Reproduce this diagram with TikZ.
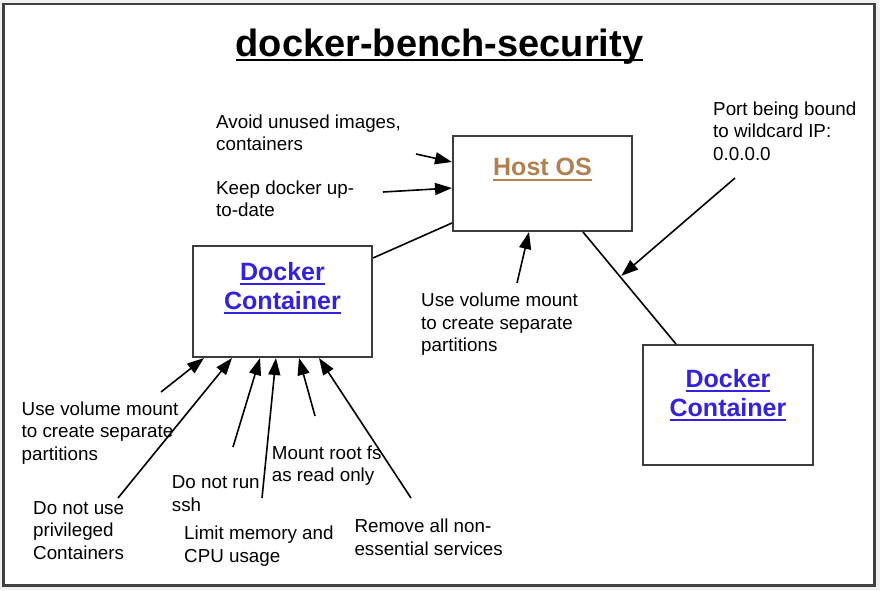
\documentclass[tikz,border=0pt]{standalone}
\usepackage{fontspec}
\setmainfont{Liberation Sans}
\usetikzlibrary{arrows.meta}
\definecolor{hostbrown}{RGB}{178,128,80}
\definecolor{linkblue}{RGB}{51,34,221}
\definecolor{boxgray}{RGB}{60,60,60}
\newsavebox\undlbox
\newcommand{\undl}[1]{\sbox\undlbox{#1}\rlap{\rule[-5pt]{\wd\undlbox}{2.2pt}}\usebox\undlbox}
\tikzset{
  lbl/.style={anchor=base west, align=left, inner sep=0pt, font=\fontsize{18.8}{22.5}\selectfont},
  osbox/.style={draw=boxgray, line width=2pt, inner sep=0pt},
  boxtxt/.style={anchor=base, align=center, inner sep=0pt, font=\bfseries\fontsize{25}{29}\selectfont},
  arr/.style={-{Triangle[length=17pt,width=12pt]}, line width=1.6pt},
  link/.style={line width=1.6pt}
}
\begin{document}
\begin{tikzpicture}[x=1pt,y=-1pt]
  \useasboundingbox (0,0) rectangle (880,590);
  \fill[gray!12] (0,0) rectangle (880,590); % page
  \draw[fill=white, draw=black!75, line width=2.5pt] (3.5,4) rectangle (874.5,585.5); % frame
  \node[anchor=base, inner sep=0pt, font=\bfseries\fontsize{38}{44}\selectfont] (title) at (439.5,56) {\undl{docker-bench-security}}; % title

  \node[osbox, minimum width=179pt, minimum height=95pt] (host) at (542.5,183.5) {}; % host os
  \node[osbox, minimum width=179pt, minimum height=111pt] (dockA) at (282.5,301.5) {}; % left container
  \node[osbox, minimum width=170pt, minimum height=120pt] (dockB) at (728,405) {}; % right container
  % multi-line nodes sit on their last baseline
  \node[boxtxt, text=hostbrown] (hostlbl) at (542.5,175.7) {\undl{Host OS}};
  \node[boxtxt, text=linkblue] (dockAlbl) at (282.5,309) {\undl{Docker}\\\undl{Container}};
  \node[boxtxt, text=linkblue] (dockBlbl) at (728,416) {\undl{Docker}\\\undl{Container}};

  \node[lbl] (avoid) at (216,150.5) {Avoid unused images,\\containers};
  \node[lbl] (keep) at (216,216.5) {Keep docker up-\\to-date};
  \node[lbl] (port) at (713,160) {Port being bound\\to wildcard IP:\\0.0.0.0};
  \node[lbl] (midvol) at (421,351.5) {Use volume mount\\to create separate\\partitions};
  \node[lbl] (vol) at (21.5,460) {Use volume mount\\to create separate\\partitions};
  \node[lbl] (priv) at (33,559.3) {Do not use\\privileged\\Containers};
  \node[lbl] (ssh) at (171.7,511) {Do not run\\ssh};
  \node[lbl] (root) at (271.7,481.7) {Mount root fs\\as read only};
  \node[lbl] (limit) at (184,562) {Limit memory and\\CPU usage};
  \node[lbl] (remove) at (354.3,555) {Remove all non-\\essential services};

  \draw[link] ([yshift=-88pt]host.north west) -- ([yshift=-13pt]dockA.north east); % host to left
  \draw[link] ([xshift=131pt]host.south west) -- coordinate[pos=0.4] (wild) ([xshift=34pt]dockB.north west); % host to right

  \coordinate (avoidT) at (416,154); % arrow tails
  \coordinate (keepT) at (383,192);
  \coordinate (midT) at (517,283);
  \coordinate (portT) at (735,178);
  \coordinate (volT) at (161,392);
  \coordinate (privT) at (118,498);
  \coordinate (sshT) at (233,447);
  \coordinate (limitT) at (262,498);
  \coordinate (rootT) at (315,416);
  \coordinate (removeT) at (411,498);

  \draw[arr] (avoidT) -- ([yshift=-27pt]host.north west);
  \draw[arr] (keepT) -- ([yshift=-53pt]host.north west);
  \draw[arr] (midT) -- ([xshift=77pt]host.south west);
  \draw[arr, shorten >=1.5pt] (portT) -- (wild);
  \draw[arr] (volT) -- ([xshift=12pt]dockA.south west);
  \draw[arr] (privT) -- ([xshift=40pt]dockA.south west);
  \draw[arr] (sshT) -- ([xshift=68pt]dockA.south west);
  \draw[arr] (limitT) -- ([xshift=84pt]dockA.south west);
  \draw[arr] (rootT) -- ([xshift=107pt]dockA.south west);
  \draw[arr] (removeT) -- ([xshift=127pt]dockA.south west);
\end{tikzpicture}
\end{document}
